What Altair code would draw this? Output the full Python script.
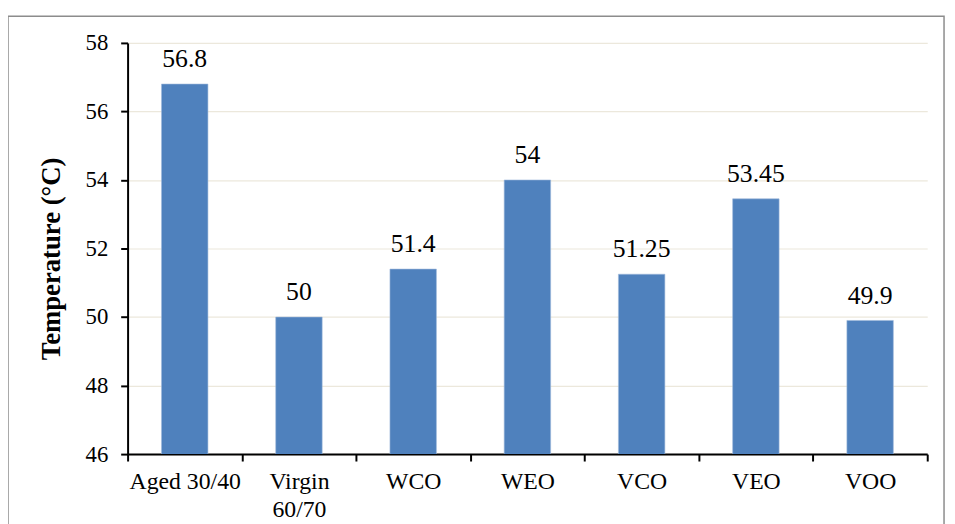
import altair as alt
import pandas as pd

categories = ["Aged 30/40", "Virgin 60/70", "WCO", "WEO", "VCO", "VEO", "VOO"]
values = [56.8, 50, 51.4, 54, 51.25, 53.45, 49.9]
labels = ["56.8", "50", "51.4", "54", "51.25", "53.45", "49.9"]

df = pd.DataFrame({"cat": categories, "val": values, "lab": labels})

W, H = 809, 416
FONT = "Liberation Serif"

x = alt.X("cat:N", sort=categories, title=None,
          scale=alt.Scale(paddingInner=0, paddingOuter=0),
          axis=alt.Axis(labelAngle=0, tickBand="extent", labelPadding=9, labelLineHeight=28,
                        labelFontSize=24,
                        labelExpr="datum.value == 'Virgin 60/70' ? ['Virgin', '60/70'] : datum.value"))
y = alt.Y("val:Q", title="Temperature (°C)",
          scale=alt.Scale(domain=[46, 58], nice=False, zero=False),
          axis=alt.Axis(values=[46, 48, 50, 52, 54, 56, 58], labelPadding=13, titlePadding=20,
                        labelFontSize=23, titleY=H / 2 + 10))

bars = alt.Chart(df).mark_bar(width=47, color="#4f81bd", stroke="#9fb9dc", strokeWidth=0.6, clip=True).encode(x=x, y=y)
text = alt.Chart(df).mark_text(font=FONT, fontSize=26, color="black", baseline="alphabetic", dy=-17).encode(
    x=x, y=y, text="lab:N")
border = alt.Chart(df.head(1)).mark_rect(fill=None, stroke="#8c8c8c", strokeWidth=1.5).encode(
    x=alt.value(-121), x2=alt.value(W + 17), y=alt.value(-27), y2=alt.value(H + 200))

chart = alt.layer(border, bars, text).properties(
    width=W, height=H, autosize=alt.AutoSizeParams(type="none"),
    padding={"left": 121, "top": 32, "right": 20, "bottom": 120}
).configure_view(stroke=None).configure_axis(
    labelFont=FONT, labelColor="black",
    domainColor="black", domainWidth=2, tickColor="black", tickWidth=2, tickSize=7,
    gridColor="#ece8dc", gridWidth=1.2,
    titleFont=FONT, titleFontSize=27, titleFontWeight="bold", titleColor="black"
).configure_axisX(grid=False).configure_axisY(grid=True)

chart.save("out.html", embed_options={"renderer": "svg", "actions": False})
